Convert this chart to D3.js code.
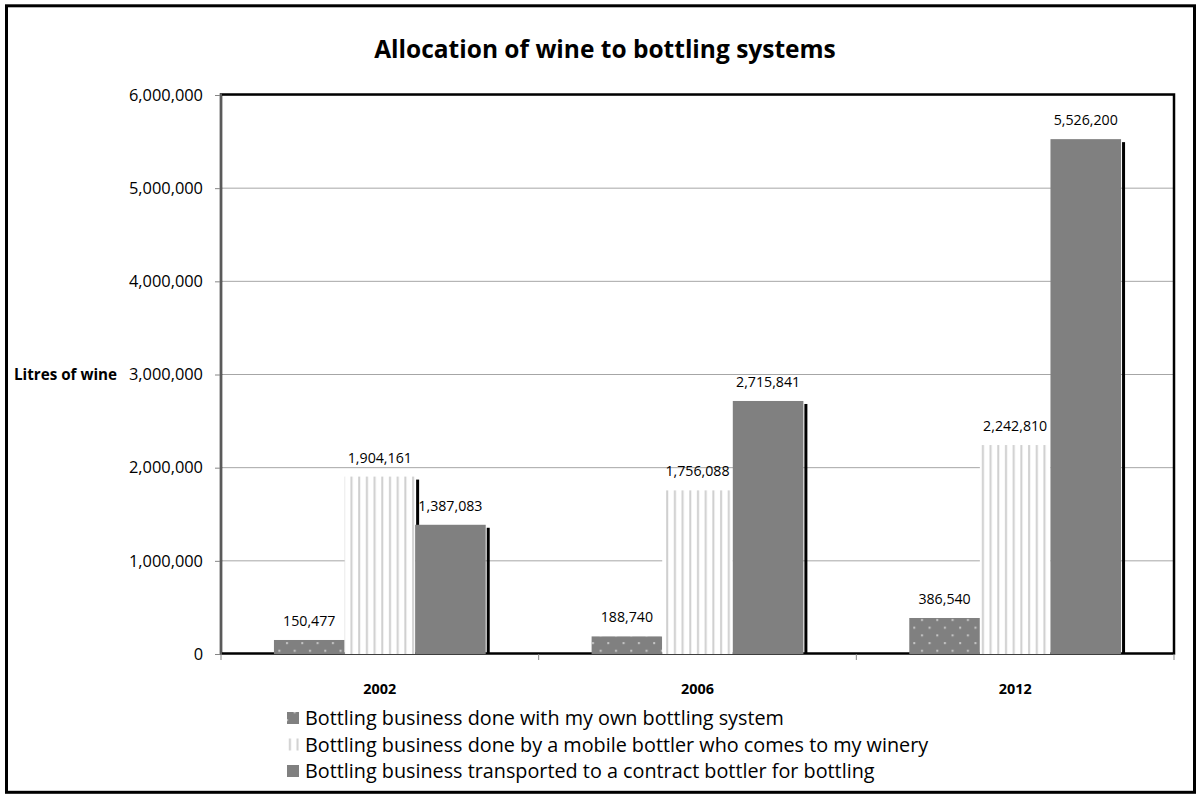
<!DOCTYPE html>
<html lang="en">
<head>
  <meta charset="utf-8">
  <title>Allocation of wine to bottling systems</title>
  <script src="https://cdn.jsdelivr.net/npm/d3@7"></script>
  <style>
    body { margin: 0; background: #fff; }
    text { font-family: "Open Sans", Lato, sans-serif; fill: #000; }
    .grid line { stroke: #a6a6a6; stroke-width: 1; }
    .axis path { display: none; }
    .axis line { stroke: #868686; }
  </style>
</head>
<body>
<script>
  // data
  var years = ["2002", "2006", "2012"];
  var seriesNames = [
    "Bottling business done with my own bottling system",
    "Bottling business done by a mobile bottler who comes to my winery",
    "Bottling business transported to a contract bottler for bottling"
  ];
  var ownSystem = [150477, 188740, 386540];
  var mobileBottler = [1904161, 1756088, 2242810];
  var contractBottler = [1387083, 2715841, 5526200];
  var yTicks = [0, 1000000, 2000000, 3000000, 4000000, 5000000, 6000000];

  var W = 1202, H = 794;
  var plot = { left: 221, top: 95, right: 1174, bottom: 654 };

  var svg = d3.select("body").append("svg")
    .attr("width", W).attr("height", H);

  var defs = svg.append("defs");

  // dotted pattern
  var dots = defs.append("pattern")
    .attr("id", "dots").attr("patternUnits", "userSpaceOnUse")
    .attr("width", 15.3).attr("height", 15.4);
  dots.append("rect").attr("width", 15.3).attr("height", 15.4).attr("fill", "#808080");
  dots.append("rect").attr("x", 3).attr("y", 3).attr("width", 2).attr("height", 2).attr("fill", "#c8c8c8");
  dots.append("rect").attr("x", 10.6).attr("y", 10.7).attr("width", 2).attr("height", 2).attr("fill", "#c8c8c8");

  // vertical stripes pattern
  var stripes = defs.append("pattern")
    .attr("id", "stripes").attr("patternUnits", "userSpaceOnUse")
    .attr("width", 7.7).attr("height", 10);
  stripes.append("rect").attr("width", 7.7).attr("height", 10).attr("fill", "#fff");
  stripes.append("rect").attr("x", 4).attr("width", 2).attr("height", 10).attr("fill", "#cfcfcf");

  var fills = ["url(#dots)", "url(#stripes)", "#808080"];
  var series = [ownSystem, mobileBottler, contractBottler];

  var x0 = d3.scaleBand()
    .domain(years)
    .range([plot.left, plot.right])
    .paddingInner(1 / 3)
    .paddingOuter(1 / 6);

  var x1 = d3.scaleBand()
    .domain(d3.range(series.length))
    .range([0, x0.bandwidth()]);

  var y = d3.scaleLinear()
    .domain([0, 6000000])
    .range([plot.bottom, plot.top]);

  var fmt = d3.format(",");

  // outer frame
  svg.append("rect")
    .attr("x", 6.5).attr("y", 5.8)
    .attr("width", 1188).attr("height", 786.5)
    .attr("fill", "none").attr("stroke", "#000").attr("stroke-width", 3);

  // title
  svg.append("text")
    .attr("x", 605).attr("y", 58)
    .attr("text-anchor", "middle")
    .style("font-size", "24.5px").style("font-weight", "bold")
    .text("Allocation of wine to bottling systems");

  // gridlines
  svg.append("g").attr("class", "grid")
    .selectAll("line")
    .data(yTicks.slice(1))
    .enter().append("line")
    .attr("x1", plot.left).attr("x2", plot.right)
    .attr("y1", function(d) { return y(d); })
    .attr("y2", function(d) { return y(d); });

  // plot area border (dark top / right)
  svg.append("rect")
    .attr("x", plot.left).attr("y", plot.top - 0.5)
    .attr("width", plot.right - plot.left).attr("height", plot.bottom - plot.top)
    .attr("fill", "none").attr("stroke", "#000").attr("stroke-width", 2.5);

  // y axis
  var yAxis = d3.axisLeft(y)
    .tickValues(yTicks)
    .tickFormat(fmt)
    .tickSize(6)
    .tickPadding(12);

  var gy = svg.append("g")
    .attr("class", "axis")
    .attr("transform", "translate(" + plot.left + ",0)")
    .call(yAxis);
  gy.selectAll("text").style("font-size", "16.4px").style("font-family", "'Open Sans', sans-serif");

  svg.append("line")
    .attr("x1", plot.left).attr("x2", plot.left)
    .attr("y1", plot.top - 1.5).attr("y2", plot.bottom + 1)
    .attr("stroke", "#5a5a5a").attr("stroke-width", 2);

  // x axis ticks at category boundaries
  var boundaries = years.map(function(d) { return x0(d) - x0.step() * x0.paddingInner() / 2; });
  boundaries.push(plot.right);
  svg.append("g")
    .selectAll("line")
    .data(boundaries)
    .enter().append("line")
    .attr("x1", function(d) { return d; }).attr("x2", function(d) { return d; })
    .attr("y1", plot.bottom).attr("y2", plot.bottom + 6)
    .attr("stroke", "#868686");

  svg.append("g")
    .selectAll("text")
    .data(years)
    .enter().append("text")
    .attr("x", function(d) { return x0(d) + x0.bandwidth() / 2; })
    .attr("y", 694)
    .attr("text-anchor", "middle")
    .style("font-size", "14.4px").style("font-weight", "bold")
    .text(function(d) { return d; });

  // axis title
  svg.append("text")
    .attr("x", 14).attr("y", 380)
    .style("font-size", "15.2px").style("font-weight", "bold")
    .text("Litres of wine");

  // bars with shadows
  series.forEach(function(vals, si) {
    var g = svg.append("g");
    years.forEach(function(yr, i) {
      var bx = x0(yr) + x1(si);
      var bw = x1.bandwidth();
      var by = y(vals[i]);
      g.append("rect")
        .attr("x", bx + bw + 1).attr("y", by + 3)
        .attr("width", 3).attr("height", plot.bottom - by - 3)
        .attr("fill", "#000");
      g.append("rect")
        .attr("x", bx).attr("y", by)
        .attr("width", bw).attr("height", plot.bottom - by)
        .attr("fill", fills[si]);
    });
  });

  // value labels
  series.forEach(function(vals, si) {
    svg.append("g")
      .selectAll("text")
      .data(vals)
      .enter().append("text")
      .attr("x", function(d, i) { return x0(years[i]) + x1(si) + x1.bandwidth() / 2; })
      .attr("y", function(d) { return y(d) - 14; })
      .attr("text-anchor", "middle")
      .style("font-size", "14.2px")
      .text(function(d) { return fmt(d); });
  });

  // legend
  var legend = svg.append("g");
  seriesNames.forEach(function(name, si) {
    var ly = 718 + si * 26.5;
    legend.append("rect")
      .attr("x", 287).attr("y", ly - 6)
      .attr("width", 12).attr("height", 12)
      .attr("fill", fills[si]);
    legend.append("text")
      .attr("x", 305).attr("y", ly + 7)
      .style("font-size", "19.8px")
      .text(name);
  });
</script>
</body>
</html>
